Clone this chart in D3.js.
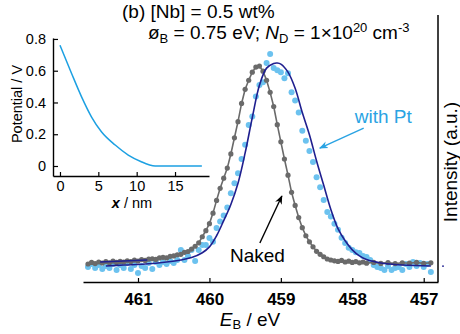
<!DOCTYPE html>
<html>
<head>
<meta charset="utf-8">
<script src="https://cdn.jsdelivr.net/npm/d3@7"></script>
<style>
  html, body { margin: 0; padding: 0; background: #fff; }
  svg { display: block; font-family: "Liberation Sans", Arial, sans-serif; }
</style>
</head>
<body>
<svg id="chart" width="460" height="334"></svg>
<script>
// ---- data ----
// XPS Ti 2p3/2 region, binding energy (eV) and intensity (a.u., peak of fit ~100)
const nakedE = [461.70, 461.65, 461.60, 461.55, 461.50, 461.45, 461.40, 461.35, 461.30, 461.25,
  461.20, 461.15, 461.10, 461.05, 461.00, 460.95, 460.90, 460.85, 460.80, 460.75,
  460.70, 460.65, 460.60, 460.55, 460.50, 460.45, 460.40, 460.35, 460.30, 460.25,
  460.20, 460.15, 460.10, 460.05, 460.00, 459.95, 459.90, 459.85, 459.80, 459.75,
  459.70, 459.65, 459.60, 459.55, 459.50, 459.45, 459.40, 459.35, 459.30, 459.25,
  459.20, 459.15, 459.10, 459.05, 459.00, 458.95, 458.90, 458.85, 458.80, 458.75,
  458.70, 458.65, 458.60, 458.55, 458.50, 458.45, 458.40, 458.35, 458.30, 458.25,
  458.20, 458.15, 458.10, 458.05, 458.00, 457.95, 457.90, 457.85, 457.80, 457.70,
  457.60, 457.50, 457.40, 457.30, 457.20, 457.10, 457.00, 456.90];
const nakedI = [1.0, 1.8, 1.2, 2.0, 1.5, 2.2, 1.6, 2.4, 1.8, 2.3,
  2.0, 2.6, 2.2, 2.9, 2.5, 3.2, 2.8, 3.4, 3.6, 3.3,
  4.0, 4.3, 4.0, 4.8, 5.0, 5.6, 5.8, 6.8, 7.2, 8.4,
  9.8, 11.5, 14.5, 17.5, 21.0, 26.2, 32.5, 38.5, 43.5, 48.5,
  55.5, 63.5, 71.5, 80.5, 87.5, 92.0, 96.0, 98.5, 99.0, 96.5,
  92.0, 86.0, 79.0, 70.0, 61.5, 53.0, 45.0, 36.5, 30.0, 24.0,
  19.0, 15.0, 12.0, 9.5, 7.3, 5.8, 4.6, 3.5, 3.0, 2.6,
  2.3, 2.8, 2.0, 2.4, 1.8, 2.2, 1.6, 2.0, 1.4, 1.8,
  1.3, 1.7, 1.2, 1.6, 1.4, 1.8, 1.3, 1.6];

const ptE = [461.70, 461.65, 461.60, 461.55, 461.50, 461.45, 461.40, 461.35, 461.30, 461.25,
  461.20, 461.15, 461.10, 461.05, 461.00, 460.95, 460.90, 460.85, 460.80, 460.75,
  460.70, 460.65, 460.60, 460.55, 460.50, 460.45, 460.40, 460.35, 460.30, 460.25,
  460.20, 460.15, 460.10, 460.05, 460.00, 459.95, 459.90, 459.85, 459.80, 459.75,
  459.70, 459.65, 459.60, 459.55, 459.50, 459.45, 459.40, 459.35, 459.30, 459.25,
  459.20, 459.15, 459.10, 459.05, 459.00, 458.95, 458.90, 458.85, 458.80, 458.75,
  458.70, 458.65, 458.60, 458.55, 458.50, 458.45, 458.40, 458.35, 458.30, 458.25,
  458.20, 458.15, 458.10, 458.05, 458.00, 457.95, 457.90, 457.85, 457.80, 457.75,
  457.70, 457.65, 457.60, 457.55, 457.50, 457.45, 457.40, 457.35, 457.30, 457.25,
  457.20, 457.15, 457.10, 457.05, 457.00, 456.95, 456.90];
const ptI = [-0.5, 1.0, -1.0, 0.5, -1.5, 0.0, -1.0, 1.0, -2.0, 0.5,
  -1.0, 1.5, -1.5, 0.5, -3.5, 0.0, -1.0, 1.5, -1.5, 2.0,
  0.5, 2.0, 1.0, 2.5, 1.5, 3.0, 7.9, 3.0, 5.0, 7.9,
  2.5, 8.0, 10.4, 10.4, 13.9, 12.0, 18.8, 22.0, 25.0, 29.0,
  36.0, 41.0, 46.0, 53.0, 60.0, 69.8, 74.0, 84.0, 89.6, 91.0,
  100.5, 105.0, 98.0, 97.0, 96.0, 93.0, 95.5, 86.0, 82.0, 76.0,
  67.0, 62.0, 57.0, 51.5, 44.0, 39.0, 32.7, 26.7, 24.5, 21.0,
  18.0, 14.0, 11.4, 9.0, 7.9, 6.8, 6.4, 5.0, 4.5, 3.0,
  0.5, -0.5, -1.0, -2.0, 0.0, -2.0, -1.0, -0.5, -2.0, 1.0,
  -0.5, 2.0, 0.0, 1.5, -0.5, 1.0, -3.0];

// fitted curve for the Pt sample
const fitE = [461.45, 461.20, 460.90, 460.60, 460.40, 460.25, 460.10, 460.00, 459.90, 459.80,
  459.70, 459.60, 459.50, 459.40, 459.30, 459.20, 459.10, 459.05, 459.00, 458.90,
  458.80, 458.70, 458.60, 458.50, 458.40, 458.30, 458.20, 458.10, 458.00, 457.90,
  457.80, 457.60, 457.30, 456.90];
const fitI = [0.0, 0.5, 1.0, 2.0, 3.0, 4.2, 6.6, 9.5, 15.0, 22.5,
  30.5, 41.0, 56.0, 73.5, 89.5, 98.0, 100.3, 100.5, 100.0, 96.0,
  88.0, 76.0, 65.0, 52.0, 40.0, 28.0, 18.5, 12.5, 8.0, 5.0,
  3.2, 1.5, 0.5, 0.0];
// short background segment at the low-energy-side start
const bgE = [461.53, 461.20, 460.87];
const bgI = [2.0, 2.5, 3.0];

const xTicks = [461, 460, 459, 458, 457];

// inset: band bending potential vs depth
const depth = [0, 1.5, 2.8, 4.1, 5.4, 7.2, 8.9, 10.6, 11.6, 12.4, 15, 18.5];
const potential = [0.76, 0.584, 0.437, 0.31, 0.216, 0.132, 0.069, 0.027, 0.008, 0.0, 0.0, 0.0];
const insetXTicks = [0, 5, 10, 15];
const insetYTicks = [0, 0.2, 0.4, 0.6, 0.8];

// ---- drawing ----
const svg = d3.select('#chart');
const font = '"Liberation Sans", Arial, sans-serif';

const x = d3.scaleLinear().domain([461.77, 456.80]).range([83, 438]);
const y = d3.scaleLinear().domain([-7.9, 124.3]).range([282, 15]);

const naked = nakedE.map((e, i) => ({ e: e, v: nakedI[i] }));
const pt = ptE.map((e, i) => ({ e: e, v: ptI[i] }));
const fit = fitE.map((e, i) => ({ e: e, v: fitI[i] }));
const bg = bgE.map((e, i) => ({ e: e, v: bgI[i] }));

const defs = svg.append('defs');
function arrowMarker(id, color) {
    defs.append('marker')
        .attr('id', id)
        .attr('viewBox', '0 0 10 10')
        .attr('refX', 9).attr('refY', 5)
        .attr('markerWidth', 9).attr('markerHeight', 9)
        .attr('markerUnits', 'userSpaceOnUse')
        .attr('orient', 'auto')
        .append('path')
        .attr('d', 'M0,1 L10,5 L0,9 L3,5 Z')
        .attr('fill', color);
}
arrowMarker('arrBlue', '#2aa3e3');
arrowMarker('arrBlack', '#000');

// Pt data points
svg.append('g').selectAll('circle')
    .data(pt)
    .enter()
    .append('circle')
    .attr('cx', d => x(d.e))
    .attr('cy', d => y(d.v))
    .attr('r', 3)
    .attr('fill', '#6cc2ef');

// naked: line with markers
const line = d3.line().x(d => x(d.e)).y(d => y(d.v));
svg.append('path')
    .datum(naked)
    .attr('d', line)
    .attr('fill', 'none')
    .attr('stroke', '#6a6a6a')
    .attr('stroke-width', 1.6);

svg.append('g').selectAll('circle')
    .data(naked)
    .enter()
    .append('circle')
    .attr('cx', d => x(d.e))
    .attr('cy', d => y(d.v))
    .attr('r', 2.6)
    .attr('fill', '#6a6a6a');

// fits
const smooth = d3.line().x(d => x(d.e)).y(d => y(d.v)).curve(d3.curveCatmullRom);
svg.append('path')
    .datum(fit)
    .attr('d', smooth)
    .attr('fill', 'none')
    .attr('stroke', '#1f1f8f')
    .attr('stroke-width', 1.6);
svg.append('path')
    .datum(bg)
    .attr('d', line)
    .attr('fill', 'none')
    .attr('stroke', '#1f1f8f')
    .attr('stroke-width', 1.4);

// axes: bottom with inward ticks, plain right spine
const xAxis = d3.axisBottom(x).tickValues(xTicks).tickFormat(d3.format('d'))
    .tickSizeInner(-4).tickSizeOuter(0).tickPadding(11);
const gx = svg.append('g')
    .attr('transform', 'translate(0,282)')
    .call(xAxis);
gx.select('.domain').attr('stroke', '#000').attr('stroke-width', 1.5);
gx.selectAll('.tick line').attr('stroke', '#000').attr('stroke-width', 1.2);
gx.selectAll('.tick text')
    .attr('font-family', font)
    .attr('font-size', 17)
    .attr('font-weight', 'bold')
    .attr('fill', '#000');

svg.append('line')
    .attr('x1', x.range()[1]).attr('x2', x.range()[1])
    .attr('y1', y.range()[0]).attr('y2', y.range()[1])
    .attr('stroke', '#000')
    .attr('stroke-width', 1.5);
// tiny baseline marker outside the right spine
svg.append('line')
    .attr('x1', x.range()[1] + 4).attr('x2', x.range()[1] + 6)
    .attr('y1', y(0)).attr('y2', y(0))
    .attr('stroke', '#1f1f8f')
    .attr('stroke-width', 1.2);

// axis titles
const xt = svg.append('text')
    .attr('x', 250).attr('y', 326)
    .attr('text-anchor', 'middle')
    .attr('font-family', font).attr('font-size', 19);
xt.append('tspan').attr('font-style', 'italic').text('E');
xt.append('tspan').attr('font-size', 13).attr('dy', 3).text('B');
xt.append('tspan').attr('dy', -3).text(' / eV');

svg.append('text')
    .attr('transform', 'translate(457,162) rotate(-90)')
    .attr('text-anchor', 'middle')
    .attr('font-family', font).attr('font-size', 19)
    .text('Intensity (a.u.)');

// title lines
svg.append('text')
    .attr('x', 122).attr('y', 18)
    .attr('font-family', font).attr('font-size', 19)
    .text('(b) [Nb] = 0.5 wt%');

const t2 = svg.append('text')
    .attr('x', 148).attr('y', 39)
    .attr('font-family', font).attr('font-size', 19);
t2.append('tspan').text('ø');
t2.append('tspan').attr('font-size', 13).attr('dy', 4).text('B');
t2.append('tspan').attr('dy', -4).text(' = 0.75 eV; ');
t2.append('tspan').attr('font-style', 'italic').text('N');
t2.append('tspan').attr('font-size', 13).attr('dy', 4).text('D');
t2.append('tspan').attr('dy', -4).text(' = 1×10');
t2.append('tspan').attr('font-size', 13).attr('dy', -7).text('20');
t2.append('tspan').attr('dy', 7).text(' cm');
t2.append('tspan').attr('font-size', 13).attr('dy', -7).text('-3');

// annotations
svg.append('text')
    .attr('x', x(457.965)).attr('y', y(70.8))
    .attr('font-family', font).attr('font-size', 19)
    .attr('fill', '#2aa3e3')
    .text('with Pt');
svg.append('line')
    .attr('x1', x(457.84)).attr('y1', y(68.3))
    .attr('x2', x(458.455)).attr('y2', y(58.4))
    .attr('stroke', '#2aa3e3').attr('stroke-width', 1.4)
    .attr('marker-end', 'url(#arrBlue)');

svg.append('text')
    .attr('x', x(459.713)).attr('y', y(2.0))
    .attr('font-family', font).attr('font-size', 19)
    .attr('fill', '#000')
    .text('Naked');
svg.append('line')
    .attr('x1', x(459.294)).attr('y1', y(11.4))
    .attr('x2', x(458.986)).attr('y2', y(34.7))
    .attr('stroke', '#000').attr('stroke-width', 1.4)
    .attr('marker-end', 'url(#arrBlack)');

// ---- inset ----
const ix = d3.scaleLinear().domain([-0.91, 19.43]).range([53, 209]);
const iy = d3.scaleLinear().domain([-0.063, 0.806]).range([176, 38]);

const inset = svg.append('g');
const ixAxis = d3.axisBottom(ix).tickValues(insetXTicks).tickSizeInner(-4).tickSizeOuter(0).tickPadding(5);
const gix = inset.append('g').attr('transform', 'translate(0,176)').call(ixAxis);
const iyAxis = d3.axisLeft(iy).tickValues(insetYTicks).tickSizeInner(-5).tickSizeOuter(0).tickPadding(7)
    .tickFormat(d => d === 0 ? '0' : d3.format('.1f')(d));
const giy = inset.append('g').attr('transform', 'translate(53,0)').call(iyAxis);
[gix, giy].forEach(g => {
    g.select('.domain').attr('stroke', '#000').attr('stroke-width', 1.4);
    g.selectAll('.tick line').attr('stroke', '#000').attr('stroke-width', 1.2);
    g.selectAll('.tick text')
        .attr('font-family', font)
        .attr('font-size', 14.5)
        .attr('fill', '#000');
});

inset.append('path')
    .datum(depth.map((d, i) => ({ d: d, v: potential[i] })))
    .attr('d', d3.line().x(d => ix(d.d)).y(d => iy(d.v)).curve(d3.curveMonotoneX))
    .attr('fill', 'none')
    .attr('stroke', '#1ca0e2')
    .attr('stroke-width', 1.5);

const ixt = inset.append('text')
    .attr('x', 132).attr('y', 208)
    .attr('text-anchor', 'middle')
    .attr('font-family', font).attr('font-size', 14.5);
ixt.append('tspan').attr('font-style', 'italic').attr('font-weight', 'bold').text('x');
ixt.append('tspan').text(' / nm');

inset.append('text')
    .attr('transform', 'translate(22,104) rotate(-90)')
    .attr('text-anchor', 'middle')
    .attr('font-family', font).attr('font-size', 14.5)
    .text('Potential / V');
</script>
</body>
</html>
